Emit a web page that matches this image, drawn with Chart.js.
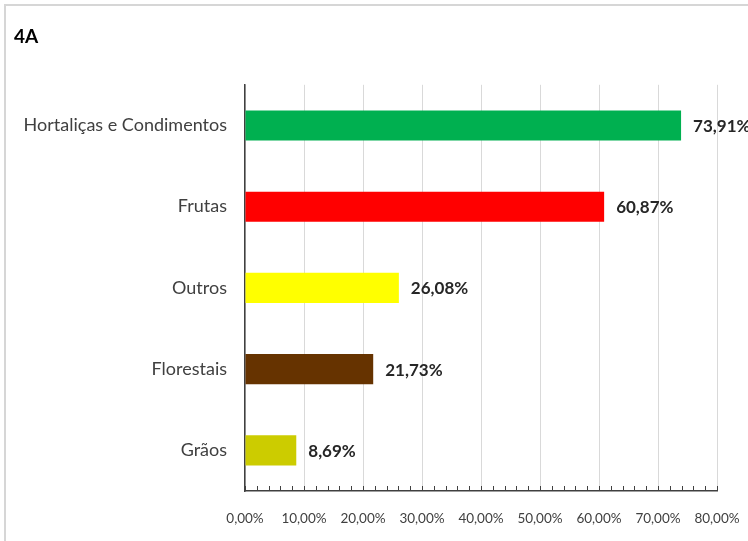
<!DOCTYPE html>
<html lang="pt">
<head>
<meta charset="utf-8">
<script src="https://cdn.jsdelivr.net/npm/chart.js@4/dist/chart.umd.min.js"></script>
<style>
  html, body { margin: 0; padding: 0; background: #ffffff; }
  #wrap { position: relative; width: 748px; height: 541px; overflow: hidden; }
  #frame { position: absolute; left: 4px; top: 4px; right: -10px; bottom: -10px;
           border-left: 2px solid #d6d6d6; border-top: 2px solid #d6d6d6; }
  canvas { position: absolute; left: 0; top: 0; }
</style>
</head>
<body>
<div id="wrap">
  <div id="frame"></div>
  <canvas id="chart" width="748" height="541"></canvas>
</div>
<script>
// Categories and shares (%) of the horizontal bar chart
const categories = ['Hortaliças e Condimentos', 'Frutas', 'Outros', 'Florestais', 'Grãos'];
const shares = [73.91, 60.87, 26.08, 21.73, 8.69];
const barColors = ['#00b050', '#ff0000', '#ffff00', '#663300', '#cccc00'];
const axisMax = 80;
const axisStep = 10;
const minorStep = 2;

const FONT = "'Lato', 'Open Sans', sans-serif";

function pct(v) {
  return v.toFixed(2).replace('.', ',') + '%';
}

// Short minor tick marks rising from the value axis
const minorTicks = {
  id: 'minorTicks',
  afterDatasetsDraw(chart) {
    const x = chart.scales.x;
    const ctx = chart.ctx;
    const y0 = chart.chartArea.bottom;
    ctx.save();
    ctx.strokeStyle = '#404040';
    ctx.lineWidth = 1;
    for (let v = 0; v <= axisMax; v += minorStep) {
      const px = Math.round(x.getPixelForValue(v)) + 0.5;
      ctx.beginPath();
      ctx.moveTo(px, y0);
      ctx.lineTo(px, y0 - 5);
      ctx.stroke();
    }
    ctx.restore();
  }
};

// Value labels at the end of each bar
const valueLabels = {
  id: 'valueLabels',
  afterDatasetsDraw(chart) {
    const ctx = chart.ctx;
    const meta = chart.getDatasetMeta(0);
    ctx.save();
    ctx.font = "bold 17px " + FONT;
    ctx.fillStyle = '#262626';
    ctx.textAlign = 'left';
    ctx.textBaseline = 'middle';
    meta.data.forEach((bar, i) => {
      ctx.fillText(pct(shares[i]), bar.x + 12, bar.y + 1);
    });
    ctx.restore();
  }
};

new Chart(document.getElementById('chart'), {
  type: 'bar',
  data: {
    labels: categories,
    datasets: [{
      data: shares,
      backgroundColor: barColors,
      borderWidth: 0,
      barPercentage: 0.37,
      categoryPercentage: 1
    }]
  },
  options: {
    indexAxis: 'y',
    responsive: false,
    animation: false,
    layout: { padding: { left: 14, right: 31, top: 0, bottom: 0 } },
    plugins: {
      legend: { display: false },
      tooltip: { enabled: false },
      title: {
        display: true,
        text: '4A',
        align: 'start',
        color: '#000000',
        font: { family: FONT, size: 19, weight: 'bold' },
        padding: { top: 25, bottom: 37 }
      }
    },
    scales: {
      x: {
        min: 0,
        max: axisMax,
        ticks: {
          stepSize: axisStep,
          callback: (v) => pct(v),
          color: '#404040',
          font: { family: FONT, size: 13.5 },
          padding: 20,
          maxRotation: 0
        },
        grid: { color: '#d9d9d9', lineWidth: 1, drawTicks: false },
        border: { color: '#404040', width: 1.5 },
        afterFit(scale) {
          scale.height = 50;
          scale.paddingLeft = 0;
          scale.paddingRight = 0;
        }
      },
      y: {
        ticks: {
          color: '#404040',
          font: { family: FONT, size: 18 },
          padding: 18
        },
        grid: { display: false, drawTicks: false },
        border: { color: '#404040', width: 1.5 },
        afterFit(scale) { scale.width = 231; }
      }
    }
  },
  plugins: [minorTicks, valueLabels]
});
</script>
</body>
</html>
